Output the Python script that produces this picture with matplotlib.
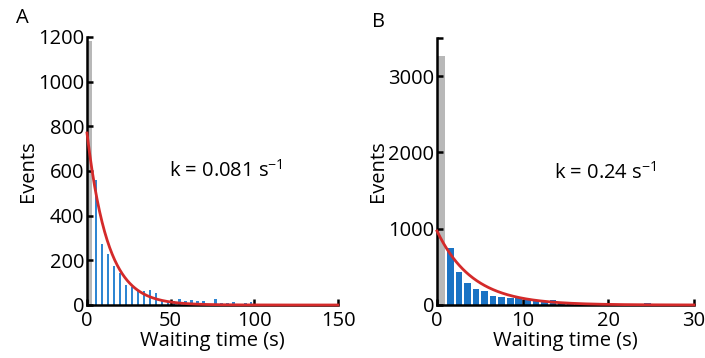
import numpy as np
import matplotlib
matplotlib.use("Agg")
import matplotlib.pyplot as plt

plt.rcParams['font.family'] = ['Open Sans', 'DejaVu Sans']
plt.rcParams['mathtext.default'] = 'regular'

# ---- Panel A data (bin width ~3.57 s, 0..150 s) ----
binA = 150 / 42
countsA = [1180, 560, 272, 228, 174, 145, 88, 79, 67, 64, 67, 55, 20, 18, 18, 25,
           18, 22, 20, 20, 5, 25, 10, 10, 14, 5, 10, 12, 3, 4, 2, 1, 2, 1, 0, 1,
           2, 0, 1, 0, 1, 0]
kA = 0.081
ampA = 770

# ---- Panel B data (bin width 1 s, 0..30 s) ----
binB = 1.0
countsB = [3270, 750, 437, 284, 212, 180, 120, 108, 92, 88, 70, 62, 55, 60, 45,
           25, 20, 15, 12, 22, 18, 10, 8, 8, 22, 5, 3, 2, 2, 2]
kB = 0.24
ampB = 970

xticksA = [0, 50, 100, 150]
yticksA = [0, 200, 400, 600, 800, 1000, 1200]
xticksB = [0, 10, 20, 30]
yticksB = [0, 1000, 2000, 3000]

BLUE = '#1a73c4'
BLUE_A = '#2f86d2'
GREY = '#b8b8b8'
RED = '#d42a2a'
FS = 14.5

W, H = 705, 358
fig = plt.figure(figsize=(W / 100, H / 100), dpi=100)

def make_axes(x0, x1, y0, y1):
    return fig.add_axes([x0 / W, (H - y0) / H, (x1 - x0) / W, (y0 - y1) / H])

axA = make_axes(87, 338, 305, 37)
axB = make_axes(437, 694, 305, 38)

def style(ax, xlim, ylim, xt, yt):
    ax.set_xlim(*xlim)
    ax.set_ylim(*ylim)
    ax.set_xticks(xt)
    ax.set_yticks(yt)
    for s in ['top', 'right']:
        ax.spines[s].set_visible(False)
    for s in ['left', 'bottom']:
        ax.spines[s].set_linewidth(1.8)
        ax.spines[s].set_color('black')
    ax.tick_params(direction='in', length=4, width=1.8, labelsize=FS,
                   colors='black')
    ax.tick_params(axis='y', pad=2)
    ax.tick_params(axis='x', pad=4)
    ax.set_xlabel('Waiting time (s)', fontsize=FS, labelpad=0)
    ax.set_ylabel('Events', fontsize=FS, labelpad=0)

# Panel A
nA = len(countsA)
centersA = (np.arange(nA) + 0.5) * binA
axA.bar(centersA[0], countsA[0], width=binA * 0.7, color=GREY, zorder=1)
axA.bar(centersA[1:], countsA[1:], width=binA * 0.38, color=BLUE_A, zorder=1)
tA = np.linspace(0, 150, 400)
axA.plot(tA, ampA * np.exp(-kA * tA), color=RED, lw=2, zorder=3, clip_on=False)
style(axA, (0, 150), (0, 1200), xticksA, yticksA)
axA.text(49, 600, 'k = 0.081 s$^{-1}$', fontsize=FS, va='center', ha='left')

# Panel B
nB = len(countsB)
centersB = (np.arange(nB) + 0.5) * binB
axB.bar(centersB[0] - 0.05, countsB[0], width=0.9, color=GREY, zorder=1)
axB.bar(centersB[1:] + 0.05, countsB[1:], width=0.78, color=BLUE, zorder=1)
tB = np.linspace(0, 30, 400)
axB.plot(tB, ampB * np.exp(-kB * tB), color=RED, lw=2, zorder=3, clip_on=False)
style(axB, (0, 30), (0, 3500), xticksB, yticksB)
axB.set_yticks([3500], minor=True)
axB.tick_params(which='minor', direction='in', length=4, width=1.8, left=True)
axB.text(13.6, 1730, 'k = 0.24 s$^{-1}$', fontsize=FS, va='center', ha='left')

fig.text(22 / W, 1 - 18 / H, 'A', fontsize=FS, ha='center', va='center')
fig.text(378 / W, 1 - 22 / H, 'B', fontsize=FS, ha='center', va='center')

fig.savefig('out.png', dpi=100)
